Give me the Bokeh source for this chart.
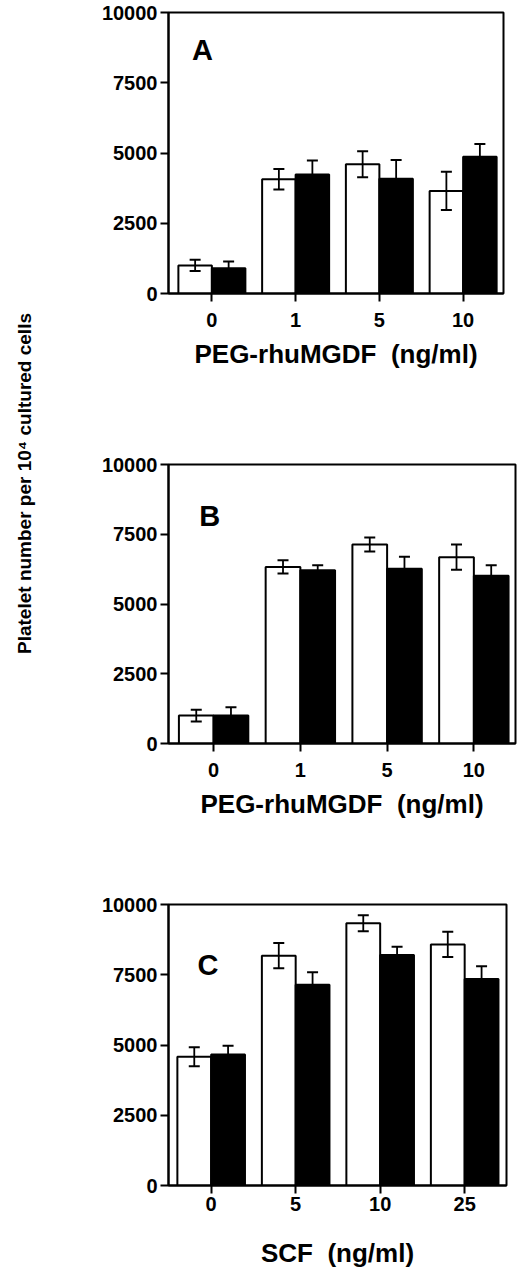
import math
from bokeh.plotting import figure
from bokeh.models import ColumnDataSource, Whisker, TeeHead, Label, Range1d, FixedTicker
from bokeh.layouts import row, column
from bokeh.embed import file_html
from bokeh.resources import INLINE

# doses (tick labels)
doses_a = ["0", "1", "5", "10"]
doses_b = ["0", "1", "5", "10"]
doses_c = ["0", "5", "10", "25"]

# panel A - PEG-rhuMGDF
a_open = [1000, 4070, 4600, 3650]
a_open_err = [200, 365, 460, 680]
a_filled = [900, 4235, 4080, 4870]
a_filled_err = [240, 500, 670, 450]

# panel B - PEG-rhuMGDF
b_open = [1000, 6330, 7130, 6680]
b_open_err = [210, 240, 250, 450]
b_filled = [1000, 6210, 6260, 6010]
b_filled_err = [300, 180, 430, 380]

# panel C - SCF
c_open = [4580, 8180, 9330, 8580]
c_open_err = [340, 450, 285, 450]
c_filled = [4660, 7140, 8200, 7350]
c_filled_err = [310, 450, 300, 450]

y_ticks = [0, 2500, 5000, 7500, 10000]

FONT = "Liberation Sans"


def panel(letter, doses, open_vals, open_err, filled_vals, filled_err, xlabel,
          height, b_left, b_top, b_bottom, frame_w, x_start,
          letter_x, letter_y, tick_standoff, title_standoff):
    xs = list(range(len(doses)))
    p = figure(width=b_left + frame_w + 2, height=height,
               x_range=Range1d(x_start, x_start + 4), y_range=Range1d(0, 10000),
               toolbar_location=None, output_backend="svg",
               min_border_left=b_left, min_border_right=2,
               min_border_top=b_top, min_border_bottom=b_bottom)

    xo = [x - 0.2 for x in xs]
    xf = [x + 0.2 for x in xs]
    p.vbar(x=xo, top=open_vals, bottom=0, width=0.4,
           fill_color="white", line_color="black", line_width=2)
    p.vbar(x=xf, top=filled_vals, bottom=0, width=0.4,
           fill_color="black", line_color="black", line_width=2)

    for bx, vals, errs in [(xo, open_vals, open_err), (xf, filled_vals, filled_err)]:
        src = ColumnDataSource(dict(
            x=bx,
            lower=[v - e for v, e in zip(vals, errs)],
            upper=[v + e for v, e in zip(vals, errs)],
        ))
        w = Whisker(base="x", lower="lower", upper="upper", source=src,
                    dimension="height", line_color="black", line_width=1.8,
                    level="annotation",
                    upper_head=TeeHead(size=11, line_width=2, line_color="black"),
                    lower_head=TeeHead(size=11, line_width=2, line_color="black"))
        p.add_layout(w)

    p.add_layout(Label(x=letter_x, y=letter_y, text=letter, text_font=FONT,
                       text_font_size="29px", text_font_style="bold",
                       text_color="black", text_baseline="alphabetic"))

    p.xaxis.ticker = FixedTicker(ticks=xs)
    p.xaxis.major_label_overrides = {i: d for i, d in enumerate(doses)}
    p.xaxis.axis_label = xlabel
    p.xaxis.axis_label_text_font = FONT
    p.xaxis.axis_label_text_font_size = "26px"
    p.xaxis.axis_label_text_font_style = "bold"
    p.xaxis.axis_label_text_color = "black"
    p.xaxis.axis_label_standoff = title_standoff
    p.xaxis.major_label_standoff = tick_standoff
    p.yaxis.ticker = FixedTicker(ticks=y_ticks)
    p.yaxis.major_label_standoff = 3

    p.axis.major_label_text_font = FONT
    p.axis.major_label_text_font_size = "20px"
    p.axis.major_label_text_font_style = "bold"
    p.axis.major_label_text_color = "black"
    p.axis.axis_line_width = 2
    p.axis.axis_line_color = "black"
    p.axis.major_tick_line_width = 2
    p.axis.major_tick_line_color = "black"
    p.axis.major_tick_out = 8
    p.axis.major_tick_in = 0
    p.axis.minor_tick_line_color = None

    p.grid.grid_line_color = None
    p.outline_line_color = "black"
    p.outline_line_width = 2
    p.background_fill_color = "white"
    p.border_fill_color = "white"
    return p


pa = panel("A", doses_a, a_open, a_open_err, a_filled, a_filled_err,
           "PEG-rhuMGDF \u00a0(ng/ml)", 400, 111, 12, 107, 340, -0.518,
           -0.236, 8683, 11, 9)
pb = panel("B", doses_b, b_open, b_open_err, b_filled, b_filled_err,
           "PEG-rhuMGDF \u00a0(ng/ml)", 440, 113, 64, 97, 350, -0.52,
           -0.166, 8172, 11, 9)
pc = panel("C", doses_c, c_open, c_open_err, c_filled, c_filled_err,
           "SCF \u00a0(ng/ml)", 433, 116, 64, 88, 338, -0.505,
           -0.162, 7840, 3, 24)

# shared y label in its own narrow strip
lab = figure(width=52, height=1273, x_range=Range1d(0, 52), y_range=Range1d(0, 1273),
             toolbar_location=None, output_backend="svg",
             x_axis_location=None, y_axis_location=None, min_border=0)
lab.grid.grid_line_color = None
lab.outline_line_color = None
lab.add_layout(Label(x=24, y=790, text="Platelet number per 10\u2074 cultured cells",
                     angle=math.pi / 2, text_align="center", text_baseline="middle",
                     text_font=FONT, text_font_size="19px", text_font_style="bold",
                     text_color="black"))

layout = row(lab, column(pa, pb, pc))

open("out.html", "w").write(file_html(layout, INLINE))
